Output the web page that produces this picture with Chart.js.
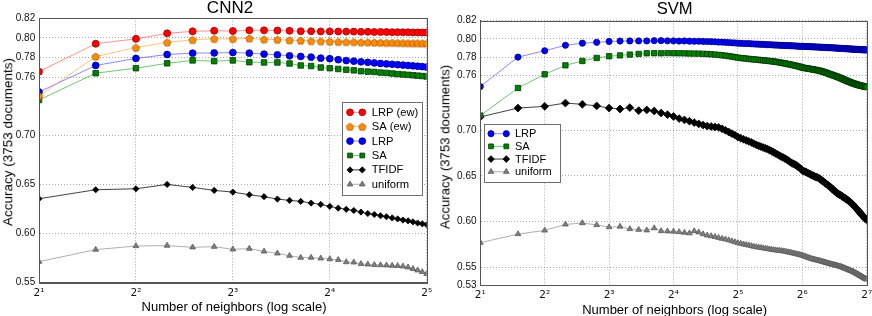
<!DOCTYPE html>
<html><head><meta charset="utf-8">
<script src="https://cdn.jsdelivr.net/npm/chart.js@4.4.1/dist/chart.umd.min.js"></script>
<style>
html,body{margin:0;padding:0;background:#fff;}
#wrap{position:relative;width:872px;height:316px;overflow:hidden;background:#fff;font-family:"Liberation Sans",Arial,sans-serif;color:#000;}
canvas{position:absolute;top:0;}
.t{position:absolute;white-space:nowrap;line-height:1;}
.rot{transform:translate(-50%,-50%) rotate(-90deg);}
.ctr{transform:translateX(-50%);}
</style></head><body>
<div id="wrap">
<canvas id="cL" width="436" height="316" style="left:0"></canvas>
<canvas id="cR" width="436" height="316" style="left:436px"></canvas>
<div class="t ctr" style="left:230px;top:-1.1px;font-size:17px">CNN2</div>
<div class="t ctr" style="left:674.7px;top:0.9px;font-size:16.6px">SVM</div>
<div class="t ctr" style="left:234px;top:300.3px;font-size:13px">Number of neighbors (log scale)</div>
<div class="t ctr" style="left:674.7px;top:303px;font-size:13px">Number of neighbors (log scale)</div>
<div class="t rot" style="left:7.5px;top:141.7px;font-size:13.5px">Accuracy (3753 documents)</div>
<div class="t rot" style="left:445px;top:146.5px;font-size:13.2px">Accuracy (3753 documents)</div>
</div>
<script>
// ---------------- DATA ----------------
const kL = [2,3,4,5,6,7,8,9,10,11,12,13,14,15,16,17,18,19,20,21,22,23,24,25,26,27,28,29,30,31,32];
const lrpEwL = [0.7655,0.7940,0.7990,0.8046,0.8067,0.8073,0.8070,0.8077,0.8077,0.8075,0.8072,0.8068,0.8068,0.8066,0.8066,0.8065,0.8064,0.8064,0.8062,0.8062,0.8060,0.8060,0.8060,0.8058,0.8058,0.8057,0.8057,0.8056,0.8056,0.8055,0.8055];
const saEwL = [0.7406,0.7810,0.7900,0.7954,0.7980,0.7990,0.7990,0.7995,0.7985,0.7982,0.7976,0.7972,0.7968,0.7966,0.7963,0.7960,0.7958,0.7958,0.7955,0.7955,0.7953,0.7952,0.7950,0.7950,0.7949,0.7948,0.7947,0.7946,0.7946,0.7945,0.7944];
const lrpL = [0.7447,0.7718,0.7790,0.7830,0.7844,0.7846,0.7850,0.7844,0.7834,0.7827,0.7817,0.7810,0.7803,0.7793,0.7787,0.7777,0.7768,0.7762,0.7755,0.7750,0.7744,0.7738,0.7734,0.7730,0.7726,0.7722,0.7718,0.7714,0.7710,0.7706,0.7702];
const saL = [0.7365,0.7639,0.7690,0.7740,0.7770,0.7762,0.7770,0.7752,0.7749,0.7749,0.7738,0.7718,0.7712,0.7697,0.7690,0.7682,0.7674,0.7668,0.7660,0.7655,0.7652,0.7645,0.7642,0.7636,0.7630,0.7626,0.7622,0.7618,0.7614,0.7610,0.7605];
const tfidfL = [0.6356,0.6448,0.6458,0.6502,0.6472,0.6441,0.6424,0.6397,0.6377,0.6353,0.6339,0.6329,0.6312,0.6298,0.6278,0.6260,0.6248,0.6236,0.6220,0.6205,0.6195,0.6182,0.6172,0.6160,0.6150,0.6138,0.6130,0.6120,0.6108,0.6100,0.6090];
const uniformL = [0.5713,0.5836,0.5873,0.5877,0.5860,0.5866,0.5839,0.5846,0.5818,0.5798,0.5774,0.5754,0.5755,0.5747,0.5740,0.5732,0.5709,0.5706,0.5690,0.5685,0.5680,0.5678,0.5676,0.5672,0.5670,0.5665,0.5655,0.5640,0.5625,0.5608,0.5588];

const kR = [2,3,4,5,6,7,8,9,10,11,12,13,14,15,16,17,18,19,20,21,22,23,
24,25,26,27,28,29,30,31,32,33,34,35,36,37,38,39,40,41,42,43,44,45,46,47,
48,49,50,51,52,53,54,55,56,57,58,59,60,61,62,63,64,65,66,67,68,69,70,71,
72,73,74,75,76,77,78,79,80,81,82,83,84,85,86,87,88,89,90,91,92,93,94,95,
96,97,98,99,100,101,102,103,104,105,106,107,108,109,110,111,112,113,114,115,116,117,118,119,
120,121,122,123,124,125,126,127,128];
const lrpR = [0.7478,0.7800,0.7870,0.7930,0.7953,0.7962,0.7972,0.7976,0.7977,0.7977,0.7977,0.7980,0.7980,0.7978,0.7978,0.7976,0.7977,0.7975,0.7974,0.7974,0.7972,0.7971,
0.7969,0.7968,0.7965,0.7964,0.7962,0.7959,0.7957,0.7955,
0.7952,0.7951,0.7949,0.7948,0.7948,0.7946,0.7944,0.7943,
0.7942,0.7940,0.7940,0.7938,0.7936,0.7936,0.7935,0.7933,
0.7932,0.7932,0.7930,0.7929,0.7929,0.7927,0.7927,0.7926,
0.7925,0.7924,0.7924,0.7922,0.7921,0.7921,0.7919,0.7918,
0.7918,0.7917,0.7917,0.7916,0.7915,0.7915,0.7914,0.7913,
0.7913,0.7912,0.7911,0.7911,0.7910,0.7909,0.7909,0.7908,
0.7907,0.7907,0.7906,0.7905,0.7905,0.7904,0.7903,0.7903,
0.7902,0.7901,0.7901,0.7900,0.7899,0.7899,0.7898,0.7897,
0.7897,0.7896,0.7895,0.7895,0.7894,0.7893,0.7893,0.7892,
0.7891,0.7891,0.7890,0.7889,0.7889,0.7888,0.7887,0.7887,
0.7886,0.7886,0.7885,0.7885,0.7884,0.7884,0.7883,0.7883,
0.7882,0.7882,0.7881,0.7881,0.7880,0.7880,0.7880,0.7879,0.7879];
const saR = [0.7160,0.7462,0.7612,0.7710,0.7758,0.7791,0.7810,0.7819,0.7828,0.7835,0.7842,0.7843,0.7842,0.7844,0.7843,0.7842,0.7841,0.7840,0.7839,0.7838,0.7836,0.7834,
0.7831,0.7828,0.7824,0.7820,0.7816,0.7811,0.7806,0.7800,
0.7794,0.7790,0.7787,0.7784,0.7780,0.7778,0.7775,0.7772,
0.7770,0.7767,0.7765,0.7762,0.7760,0.7757,0.7755,0.7752,
0.7749,0.7746,0.7742,0.7738,0.7735,0.7731,0.7727,0.7723,
0.7720,0.7716,0.7712,0.7708,0.7704,0.7700,0.7696,0.7692,
0.7686,0.7683,0.7680,0.7677,0.7675,0.7672,0.7670,0.7667,
0.7665,0.7662,0.7660,0.7657,0.7654,0.7651,0.7648,0.7644,
0.7640,0.7636,0.7632,0.7628,0.7623,0.7618,0.7614,0.7610,
0.7606,0.7602,0.7598,0.7594,0.7590,0.7586,0.7582,0.7578,
0.7573,0.7569,0.7564,0.7560,0.7555,0.7551,0.7546,0.7542,
0.7538,0.7534,0.7530,0.7526,0.7522,0.7518,0.7515,0.7512,
0.7509,0.7506,0.7503,0.7500,0.7497,0.7495,0.7492,0.7490,
0.7488,0.7486,0.7484,0.7482,0.7480,0.7478,0.7476,0.7474,0.7472];
const tfidfR = [0.7145,0.7242,0.7261,0.7297,0.7283,0.7266,0.7242,0.7232,0.7247,0.7214,0.7222,0.7210,0.7188,0.7170,0.7150,0.7127,0.7112,0.7098,0.7083,0.7068,0.7056,0.7045,
0.7040,0.7035,0.7030,0.7015,0.6998,0.6980,0.6962,0.6945,
0.6925,0.6912,0.6900,0.6888,0.6877,0.6866,0.6852,0.6840,
0.6829,0.6820,0.6810,0.6802,0.6793,0.6780,0.6770,0.6758,
0.6746,0.6734,0.6722,0.6711,0.6702,0.6690,0.6680,0.6668,
0.6655,0.6642,0.6632,0.6625,0.6615,0.6602,0.6590,0.6575,
0.6558,0.6552,0.6545,0.6538,0.6530,0.6522,0.6515,0.6507,
0.6500,0.6494,0.6489,0.6484,0.6478,0.6470,0.6460,0.6450,
0.6440,0.6430,0.6420,0.6410,0.6400,0.6391,0.6382,0.6372,
0.6362,0.6351,0.6340,0.6330,0.6321,0.6312,0.6304,0.6296,
0.6292,0.6285,0.6278,0.6271,0.6264,0.6257,0.6250,0.6243,
0.6236,0.6229,0.6222,0.6214,0.6205,0.6196,0.6187,0.6178,
0.6168,0.6158,0.6148,0.6138,0.6128,0.6118,0.6108,0.6098,
0.6088,0.6078,0.6068,0.6058,0.6049,0.6040,0.6032,0.6025,0.6018];
const uniformR = [0.5768,0.5862,0.5902,0.5968,0.5983,0.5962,0.5938,0.5944,0.5918,0.5910,0.5904,0.5927,0.5896,0.5893,0.5890,0.5885,0.5878,0.5872,0.5895,0.5882,0.5862,0.5848,
0.5840,0.5832,0.5822,0.5812,0.5805,0.5795,0.5785,0.5775,
0.5765,0.5758,0.5750,0.5745,0.5738,0.5732,0.5726,0.5720,
0.5716,0.5712,0.5708,0.5704,0.5700,0.5696,0.5692,0.5688,
0.5686,0.5683,0.5680,0.5678,0.5675,0.5672,0.5668,0.5664,
0.5660,0.5656,0.5652,0.5648,0.5644,0.5640,0.5636,0.5632,
0.5628,0.5622,0.5617,0.5611,0.5605,0.5600,0.5595,0.5590,
0.5586,0.5582,0.5579,0.5576,0.5572,0.5569,0.5566,0.5562,
0.5558,0.5555,0.5551,0.5547,0.5543,0.5540,0.5537,0.5534,
0.5531,0.5528,0.5525,0.5522,0.5519,0.5516,0.5513,0.5510,
0.5508,0.5504,0.5500,0.5496,0.5492,0.5488,0.5484,0.5480,
0.5476,0.5472,0.5468,0.5464,0.5460,0.5456,0.5452,0.5448,
0.5443,0.5438,0.5433,0.5428,0.5423,0.5418,0.5413,0.5408,
0.5403,0.5398,0.5393,0.5388,0.5383,0.5378,0.5374,0.5370,0.5365];

const xTicksL = [2,4,8,16,32];
const xTickLabelsL = ['2\u00b9','2\u00b2','2\u00b3','2\u2074','2\u2075'];
const xTicksR = [2,4,8,16,32,64,128];
const xTickLabelsR = ['2\u00b9','2\u00b2','2\u00b3','2\u2074','2\u2075','2\u2076','2\u2077'];
const yTicksL = [0.55,0.60,0.65,0.70,0.76,0.78,0.80,0.82];
const yTicksR = [0.53,0.55,0.60,0.65,0.70,0.76,0.78,0.80,0.82];
const namesL = ['LRP (ew)','SA (ew)','LRP','SA','TFIDF','uniform'];
const namesR = ['LRP','SA','TFIDF','uniform'];

// ---------------- STYLE ----------------
const FONT = '"Liberation Sans", Arial, sans-serif';
Chart.defaults.font.family = FONT;

function pentagon(r, fill, edge) {
  const s = Math.ceil(2 * r + 3);
  const c = document.createElement('canvas'); c.width = s; c.height = s;
  const x = c.getContext('2d');
  x.beginPath();
  for (let i = 0; i < 5; i++) {
    const a = -Math.PI / 2 + i * 2 * Math.PI / 5;
    const px = s / 2 + r * Math.cos(a), py = s / 2 + 0.4 + r * Math.sin(a);
    i ? x.lineTo(px, py) : x.moveTo(px, py);
  }
  x.closePath(); x.fillStyle = fill; x.fill();
  x.strokeStyle = edge; x.lineWidth = 0.8; x.stroke();
  return c;
}

const stL = [
  {ps:'circle', r:3.5, fill:'#ff0000', edge:'#9a0000', line:'rgba(255,40,40,0.5)'},
  {ps:pentagon(3.9,'#ff8c00','#a85a00'), r:3.8, fill:'#ff8c00', edge:'#a85a00', line:'rgba(255,150,20,0.55)'},
  {ps:'circle', r:3.4, fill:'#0000ff', edge:'#000080', line:'rgba(40,40,255,0.55)'},
  {ps:'rect', r:3.9, fill:'#008000', edge:'#003800', line:'rgba(0,150,0,0.55)'},
  {ps:'rectRot', r:3.1, fill:'#000000', edge:'#000000', line:'rgba(0,0,0,0.75)'},
  {ps:'triangle', r:3.3, fill:'#7f7f7f', edge:'#5a5a5a', line:'rgba(120,120,120,0.6)'}
];
const stR = [
  {ps:'circle', r:3.1, fill:'#0000ff', edge:'#000080', line:'rgba(40,40,255,0.55)'},
  {ps:'rect', r:3.8, fill:'#008000', edge:'#003800', line:'rgba(0,150,0,0.55)'},
  {ps:'rectRot', r:3.9, fill:'#000000', edge:'#000000', line:'rgba(0,0,0,0.75)'},
  {ps:'triangle', r:3.3, fill:'#7f7f7f', edge:'#5a5a5a', line:'rgba(120,120,120,0.6)'}
];

function ds(label, ks, vals, st) {
  return {
    label, data: ks.map((k, i) => ({x: k, y: vals[i]})),
    borderColor: st.line, borderWidth: 1, showLine: true, tension: 0, fill: false,
    pointStyle: st.ps, pointRadius: st.r, pointHoverRadius: st.r,
    pointBackgroundColor: st.fill, pointBorderColor: st.edge, pointBorderWidth: 0.8
  };
}

function drawMarker(ctx, st, x, y, rr) {
  if (typeof st.ps !== 'string') {
    ctx.drawImage(st.ps, x - st.ps.width / 2, y - st.ps.height / 2);
    return;
  }
  const r = rr || st.r;
  ctx.beginPath();
  if (st.ps === 'circle') ctx.arc(x, y, r, 0, Math.PI * 2);
  else if (st.ps === 'rect') { const h = r * Math.SQRT1_2; ctx.rect(x - h, y - h, 2 * h, 2 * h); }
  else if (st.ps === 'rectRot') { ctx.moveTo(x, y - r); ctx.lineTo(x + r, y); ctx.lineTo(x, y + r); ctx.lineTo(x - r, y); ctx.closePath(); }
  else if (st.ps === 'triangle') {
    for (let i = 0; i < 3; i++) { const a = i * 2 * Math.PI / 3; const px = x + Math.sin(a) * r, py = y - Math.cos(a) * r; i ? ctx.lineTo(px, py) : ctx.moveTo(px, py); }
    ctx.closePath();
  }
  ctx.fillStyle = st.fill; ctx.fill();
  ctx.lineWidth = 0.8; ctx.strokeStyle = st.edge; ctx.stroke();
}

const decor = {
  id: 'decor',
  afterDatasetsDraw(chart, args, o) {
    const ctx = chart.ctx, a = chart.chartArea;
    ctx.save();
    ctx.strokeStyle = '#555'; ctx.lineWidth = 1;
    ctx.strokeRect(Math.round(a.left) + 0.5, Math.round(a.top) + 0.5, Math.round(a.right) - Math.round(a.left), Math.round(a.bottom) - Math.round(a.top));
    // legend
    const b = o.box;
    ctx.fillStyle = '#fff';
    ctx.fillRect(b[0], b[1], b[2] - b[0], b[3] - b[1]);
    ctx.strokeStyle = '#6e6e6e';
    ctx.strokeRect(Math.round(b[0]) + 0.5, Math.round(b[1]) + 0.5, Math.round(b[2] - b[0]), Math.round(b[3] - b[1]));
    ctx.font = o.fontSize + 'px ' + FONT;
    ctx.textBaseline = 'middle'; ctx.textAlign = 'left';
    o.names.forEach((n, i) => {
      const y = o.y0 + i * o.dy, st = o.styles[i];
      ctx.beginPath(); ctx.moveTo(o.m1, y); ctx.lineTo(o.m2, y);
      ctx.strokeStyle = st.line; ctx.lineWidth = 1; ctx.stroke();
      const rr = Math.min(st.r, 3.4);
      drawMarker(ctx, st, o.m1, y, rr);
      drawMarker(ctx, st, o.m2, y, rr);
      ctx.fillStyle = '#000';
      ctx.fillText(n, o.tx, y + 0.5);
    });
    ctx.restore();
  }
};

function makeChart(id, cfg) {
  const gridOpts = {color: '#a8a8a8', lineWidth: 1, drawTicks: false};
  const borderOpts = {display: true, color: '#555', width: 1, dash: [1, 2]};
  return new Chart(document.getElementById(id), {
    type: 'scatter',
    data: {datasets: cfg.names.map((n, i) => ds(n, cfg.ks, cfg.series[i], cfg.styles[i]))},
    options: {
      responsive: false, animation: false, events: [],
      layout: {padding: cfg.pad},
      plugins: {
        legend: {display: false}, tooltip: {enabled: false},
        decor: cfg.legend
      },
      scales: {
        x: {
          type: 'logarithmic', min: cfg.xTicks[0], max: cfg.xTicks[cfg.xTicks.length - 1], bounds: 'data',
          afterBuildTicks: s => { s.ticks = cfg.xTicks.map(v => ({value: v})); },
          afterFit: s => { s.height = cfg.xH; s.paddingLeft = 0; s.paddingRight = 0; },
          ticks: {autoSkip: false, maxRotation: 0, minRotation: 0, padding: cfg.xPad, color: '#111',
            font: {size: 10.5, family: '"DejaVu Sans", "Liberation Sans", sans-serif'},
            callback: v => { const i = cfg.xTicks.indexOf(v); return i >= 0 ? cfg.xLabels[i] : ''; }},
          grid: gridOpts, border: borderOpts
        },
        y: {
          type: 'linear', min: cfg.yTicks[0], max: cfg.yTicks[cfg.yTicks.length - 1],
          afterBuildTicks: s => { s.ticks = cfg.yTicks.map(v => ({value: v})); },
          afterFit: s => { s.width = cfg.yW; s.paddingTop = 0; s.paddingBottom = 0; },
          ticks: {padding: 3.8, color: '#111', font: {size: 10}, callback: v => Number(v).toFixed(2)},
          grid: gridOpts, border: borderOpts
        }
      }
    },
    plugins: [decor]
  });
}

makeChart('cL', {
  ks: kL, names: namesL, styles: stL,
  series: [lrpEwL, saEwL, lrpL, saL, tfidfL, uniformL],
  xTicks: xTicksL, xLabels: xTickLabelsL, yTicks: yTicksL,
  pad: {left: 0, top: 18.3, right: 9.3, bottom: 0}, yW: 39, xH: 33.5, xPad: 4.0,
  legend: {box: [342, 102, 422, 195], names: namesL, styles: stL, y0: 112.3, dy: 14.4, m1: 350, m2: 362.3, tx: 371.7, fontSize: 11.2}
});
makeChart('cR', {
  ks: kR, names: namesR, styles: stR,
  series: [lrpR, saR, tfidfR, uniformR],
  xTicks: xTicksR, xLabels: xTickLabelsR, yTicks: yTicksR,
  pad: {left: 0, top: 20.6, right: 5.3, bottom: 0}, yW: 44.3, xH: 30.6, xPad: 3.6,
  legend: {box: [48.3, 124.3, 124, 182.5], names: namesR, styles: stR, y0: 133.7, dy: 12.67, m1: 55, m2: 70.3, tx: 79, fontSize: 11}
});
</script>
</body></html>
